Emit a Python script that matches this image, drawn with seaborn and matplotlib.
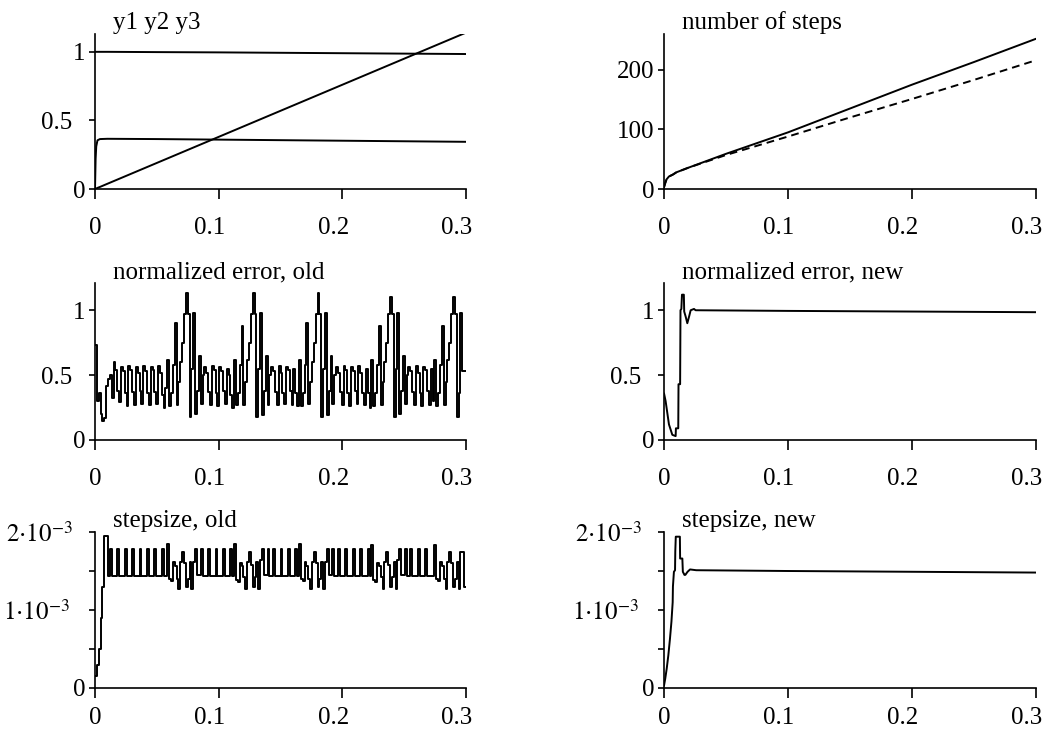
import numpy as np
import pandas as pd
import matplotlib
matplotlib.use("Agg")
import matplotlib.pyplot as plt
from matplotlib.transforms import ScaledTranslation
import seaborn as sns

# ---------------- data ----------------
x_ticks = [0.0, 0.1, 0.2, 0.3]
x_tick_labels = ["0", "0.1", "0.2", "0.3"]

# panel: y1 y2 y3
t_sol = [0, 0.0005, 0.001, 0.002, 0.004, 0.01, 0.05, 0.1, 0.15, 0.2, 0.25, 0.3]
y1 = [1.0, 1.0, 1.0, 1.0, 1.0, 1.0, 0.998, 0.996, 0.993, 0.99, 0.987, 0.984]
y2 = [0.0, 0.22, 0.31, 0.355, 0.364, 0.366, 0.364, 0.36, 0.356, 0.352, 0.348, 0.344]
y3 = [0.0, 0.002, 0.004, 0.008, 0.015, 0.038, 0.19, 0.38, 0.57, 0.76, 0.95, 1.14]

# panel: number of steps
t_steps = [0, 0.001, 0.002, 0.004, 0.007, 0.01, 0.02, 0.05, 0.1, 0.15, 0.2, 0.25, 0.3]
steps_old = [3, 10, 16, 21, 24, 28, 36, 59, 95, 135, 175, 213, 252]
steps_new = [3, 10, 16, 21, 24, 28, 36, 57, 88, 120, 151, 183, 216]

# panels "old": one value per step (step length 0.0015)
step_len = 0.0015
err_old = [
    0.73, 0.30, 0.36, 0.20, 0.15, 0.17, 0.42, 0.47, 0.50, 0.32,
    0.60, 0.54, 0.38, 0.29, 0.56, 0.53, 0.36, 0.26, 0.57, 0.54, 0.37, 0.27,
    0.56, 0.52, 0.38, 0.28, 0.57, 0.53, 0.36, 0.27, 0.56, 0.54, 0.37, 0.28,
    0.57, 0.52, 0.35, 0.25, 0.40,
    0.62, 0.26, 0.36, 0.58, 0.90, 0.27, 0.45, 0.60, 0.75, 0.97,
    1.13, 0.97, 0.18, 0.55, 0.98, 0.20, 0.38, 0.65, 0.28, 0.50,
    0.56, 0.52, 0.37, 0.27, 0.57, 0.54, 0.36, 0.26, 0.56, 0.53, 0.38, 0.28,
    0.55, 0.50, 0.35, 0.25,
    0.62, 0.27, 0.36, 0.58, 0.88, 0.27, 0.45, 0.62, 0.75, 0.97,
    1.13, 0.97, 0.18, 0.55, 0.98, 0.19, 0.38, 0.65, 0.27, 0.50,
    0.56, 0.53, 0.37, 0.27, 0.57, 0.52, 0.36, 0.28, 0.56, 0.54, 0.38, 0.27,
    0.55, 0.36, 0.26,
    0.62, 0.26, 0.36, 0.58, 0.90, 0.28, 0.45, 0.60, 0.75, 0.97,
    1.13, 0.97, 0.18, 0.55, 0.98, 0.19, 0.38, 0.65, 0.28, 0.50,
    0.56, 0.52, 0.37, 0.27, 0.57, 0.54, 0.36, 0.26, 0.56, 0.53, 0.38, 0.28,
    0.57, 0.52, 0.36, 0.27, 0.55, 0.36, 0.25,
    0.62, 0.26, 0.36, 0.58, 0.88, 0.27, 0.45, 0.60, 0.75, 0.97,
    1.10, 0.97, 0.18, 0.55, 0.98, 0.20, 0.38, 0.65, 0.28, 0.50,
    0.56, 0.53, 0.37, 0.27, 0.57, 0.52, 0.36, 0.26, 0.56, 0.54, 0.38, 0.27,
    0.55, 0.30,
    0.62, 0.26, 0.36, 0.58, 0.88, 0.27, 0.45, 0.62, 0.75, 0.97,
    1.10, 0.97, 0.18, 0.36, 0.98, 0.53, 0.53,
]
h_old_e3 = [
    0.15, 0.30, 0.50, 0.90, 1.30, 1.95, 1.95, 1.44, 1.78, 1.44,
    1.44, 1.44, 1.78, 1.44, 1.44, 1.44, 1.78, 1.44, 1.44, 1.44, 1.78, 1.44,
    1.44, 1.44, 1.78, 1.44, 1.44, 1.44, 1.78, 1.44, 1.44, 1.44, 1.78, 1.44,
    1.44, 1.44, 1.78, 1.44, 1.44,
    1.85, 1.40, 1.37, 1.62, 1.57, 1.40, 1.27, 1.62, 1.75, 1.60,
    1.30, 1.40, 1.62, 1.27, 1.62, 1.78, 1.45, 1.45, 1.78, 1.44,
    1.44, 1.44, 1.78, 1.44, 1.44, 1.44, 1.78, 1.44, 1.44, 1.44, 1.78, 1.44,
    1.44, 1.44, 1.78, 1.44,
    1.85, 1.38, 1.36, 1.60, 1.57, 1.42, 1.27, 1.62, 1.75, 1.58,
    1.30, 1.42, 1.62, 1.27, 1.64, 1.78, 1.45, 1.45, 1.78, 1.44,
    1.44, 1.78, 1.44, 1.44, 1.44, 1.78, 1.44, 1.44, 1.44, 1.78, 1.44, 1.44,
    1.44, 1.78, 1.44,
    1.85, 1.40, 1.37, 1.62, 1.57, 1.40, 1.27, 1.62, 1.75, 1.60,
    1.30, 1.40, 1.62, 1.27, 1.62, 1.78, 1.45, 1.45, 1.78, 1.44,
    1.44, 1.78, 1.44, 1.44, 1.44, 1.78, 1.44, 1.44, 1.44, 1.78, 1.44, 1.44,
    1.44, 1.78, 1.44, 1.44, 1.44, 1.78, 1.44,
    1.83, 1.38, 1.36, 1.60, 1.57, 1.42, 1.27, 1.62, 1.75, 1.58,
    1.30, 1.42, 1.62, 1.27, 1.64, 1.78, 1.45, 1.45, 1.78, 1.44,
    1.44, 1.78, 1.44, 1.44, 1.44, 1.78, 1.44, 1.44, 1.44, 1.78, 1.44, 1.44,
    1.44, 1.44,
    1.83, 1.40, 1.37, 1.62, 1.57, 1.40, 1.27, 1.62, 1.75, 1.60,
    1.30, 1.40, 1.62, 1.27, 1.75, 1.75, 1.30,
]

# panels "new": (t, value) points
t_err_new = [0, 0.0013, 0.004, 0.0067, 0.0094, 0.0096, 0.0115, 0.0117, 0.0130,
             0.0133, 0.0140, 0.0145, 0.0160, 0.0163, 0.0175, 0.0188, 0.0202,
             0.0215, 0.0242, 0.0255, 0.1, 0.2, 0.3]
err_new = [0.36, 0.30, 0.12, 0.04, 0.03, 0.09, 0.09, 0.43, 0.43, 1.00, 1.01,
           1.12, 1.12, 0.99, 0.95, 0.90, 0.95, 1.00, 1.01, 1.00, 0.995, 0.99, 0.985]
t_h_new = [0, 0.001, 0.0022, 0.0035, 0.0048, 0.006, 0.007, 0.0072, 0.0080,
           0.0089, 0.0091, 0.0095, 0.0128, 0.0130, 0.0148, 0.0152, 0.0165,
           0.0172, 0.019, 0.021, 0.026, 0.1, 0.2, 0.3]
h_new_e3 = [0.03, 0.12, 0.25, 0.42, 0.63, 0.85, 1.10, 1.30, 1.49, 1.51, 1.75,
            1.94, 1.94, 1.66, 1.66, 1.49, 1.45, 1.45, 1.49, 1.52, 1.51, 1.50,
            1.49, 1.48]

titles = ["y1 y2 y3", "number of steps", "normalized error, old",
          "normalized error, new", "stepsize, old", "stepsize, new"]

err_ticks = [0, 0.5, 1]
err_tick_labels = ["0", "0.5", "1"]
steps_ticks = [0, 100, 200]
steps_tick_labels = ["0", "100", "200"]
h_ticks = [0, 0.5e-3, 1e-3, 1.5e-3, 2e-3]
h_tick_labels = ["0", "", r"$1{\cdot}10^{-3}$", "", r"$2{\cdot}10^{-3}$"]

# ---------------- style ----------------
sns.set_theme(style="ticks")
plt.rcParams["font.family"] = ["Liberation Serif", "DejaVu Serif"]
plt.rcParams["mathtext.fontset"] = "stix"
plt.rcParams["axes.edgecolor"] = "black"
plt.rcParams["xtick.color"] = "black"
plt.rcParams["ytick.color"] = "black"
plt.rcParams["text.color"] = "black"

W, H = 1049, 735
fig = plt.figure(figsize=(W / 100, H / 100), dpi=100)
fig.patch.set_facecolor("white")

col_left = [95, 664]
col_w = [371, 372]
rows = [(34, 189), (283, 440), (532, 688)]  # top px, bottom px
row_xpad = [12.5, 12.5, 6.5]
FS = 18

# extra leftward offset (px) of some y labels, as typeset in the original
y_label_shift = {"0.5": 13, r"$2{\cdot}10^{-3}$": 13, r"$1{\cdot}10^{-3}$": 16}


def nudge(label, dx_px, dy_px=0.0):
    label.set_transform(label.get_transform()
                        + ScaledTranslation(dx_px / 100, dy_px / 100, fig.dpi_scale_trans))


def make_ax(r, c):
    top, bot = rows[r]
    return fig.add_axes([col_left[c] / W, 1 - bot / H, col_w[c] / W, (bot - top) / H])


def style(ax, r, ylim, yticks, ylabels, title):
    ax.set_xlim(0, 0.3)
    ax.set_ylim(*ylim)
    ax.set_xticks(x_ticks)
    ax.set_xticklabels(x_tick_labels)
    ax.set_yticks(yticks)
    ax.set_yticklabels(ylabels)
    ax.set_xlabel("")
    ax.set_ylabel("")
    sns.despine(ax=ax)
    for s in ("left", "bottom"):
        ax.spines[s].set_linewidth(1.2)
        ax.spines[s].set_color("black")
    ax.tick_params(axis="x", direction="out", length=7.5, width=1.2,
                   pad=row_xpad[r], labelsize=FS)
    ax.tick_params(axis="y", direction="out", length=4, width=1.2, pad=3,
                   labelsize=FS)
    # x labels: last digit sits under the tick
    for tick in ax.xaxis.get_major_ticks():
        tick.label1.set_horizontalalignment("right")
        nudge(tick.label1, 6.5)
    for tick, lab in zip(ax.yaxis.get_major_ticks(), ylabels):
        if lab in y_label_shift:
            nudge(tick.label1, -y_label_shift[lab])
    ax.grid(False)
    ax.annotate(title, xy=(0, 1), xycoords="axes fraction", xytext=(18, 5),
                textcoords="offset pixels", ha="left", va="baseline",
                fontsize=FS)


lw = 1.4
line_kw = dict(color="black", linewidth=lw, estimator=None, sort=False, legend=False)

# y1 y2 y3
ax = make_ax(0, 0)
df = pd.DataFrame({"t": t_sol, "y1": y1, "y2": y2, "y3": y3})
for col in ("y1", "y2", "y3"):
    sns.lineplot(data=df, x="t", y=col, ax=ax, **line_kw)
style(ax, 0, (0, 1.13), err_ticks, err_tick_labels, titles[0])

# number of steps
ax = make_ax(0, 1)
df = pd.DataFrame({"t": t_steps, "old": steps_old, "new": steps_new})
sns.lineplot(data=df, x="t", y="old", ax=ax, **line_kw)
sns.lineplot(data=df, x="t", y="new", ax=ax, linestyle=(0, (4, 2.6)), **line_kw)
style(ax, 0, (0, 260), steps_ticks, steps_tick_labels, titles[1])

# old panels on step grid
t_old = np.arange(len(err_old)) * step_len
t_old_edges = np.append(t_old, 0.3)
df_old = pd.DataFrame({"t": t_old_edges,
                       "err": np.append(err_old, err_old[-1]),
                       "h": np.append(h_old_e3, h_old_e3[-1]) * 1e-3})

ax = make_ax(1, 0)
sns.lineplot(data=df_old, x="t", y="err", ax=ax, drawstyle="steps-post", **line_kw)
style(ax, 1, (0, 1.21), err_ticks, err_tick_labels, titles[2])

ax = make_ax(1, 1)
df = pd.DataFrame({"t": t_err_new, "err": err_new})
sns.lineplot(data=df, x="t", y="err", ax=ax, **line_kw)
style(ax, 1, (0, 1.21), err_ticks, err_tick_labels, titles[3])

ax = make_ax(2, 0)
sns.lineplot(data=df_old, x="t", y="h", ax=ax, drawstyle="steps-post", **line_kw)
style(ax, 2, (0, 2e-3), h_ticks, h_tick_labels, titles[4])

ax = make_ax(2, 1)
df = pd.DataFrame({"t": t_h_new, "h": np.array(h_new_e3) * 1e-3})
sns.lineplot(data=df, x="t", y="h", ax=ax, **line_kw)
style(ax, 2, (0, 2e-3), h_ticks, h_tick_labels, titles[5])

fig.savefig("out.png", dpi=100, facecolor="white")
